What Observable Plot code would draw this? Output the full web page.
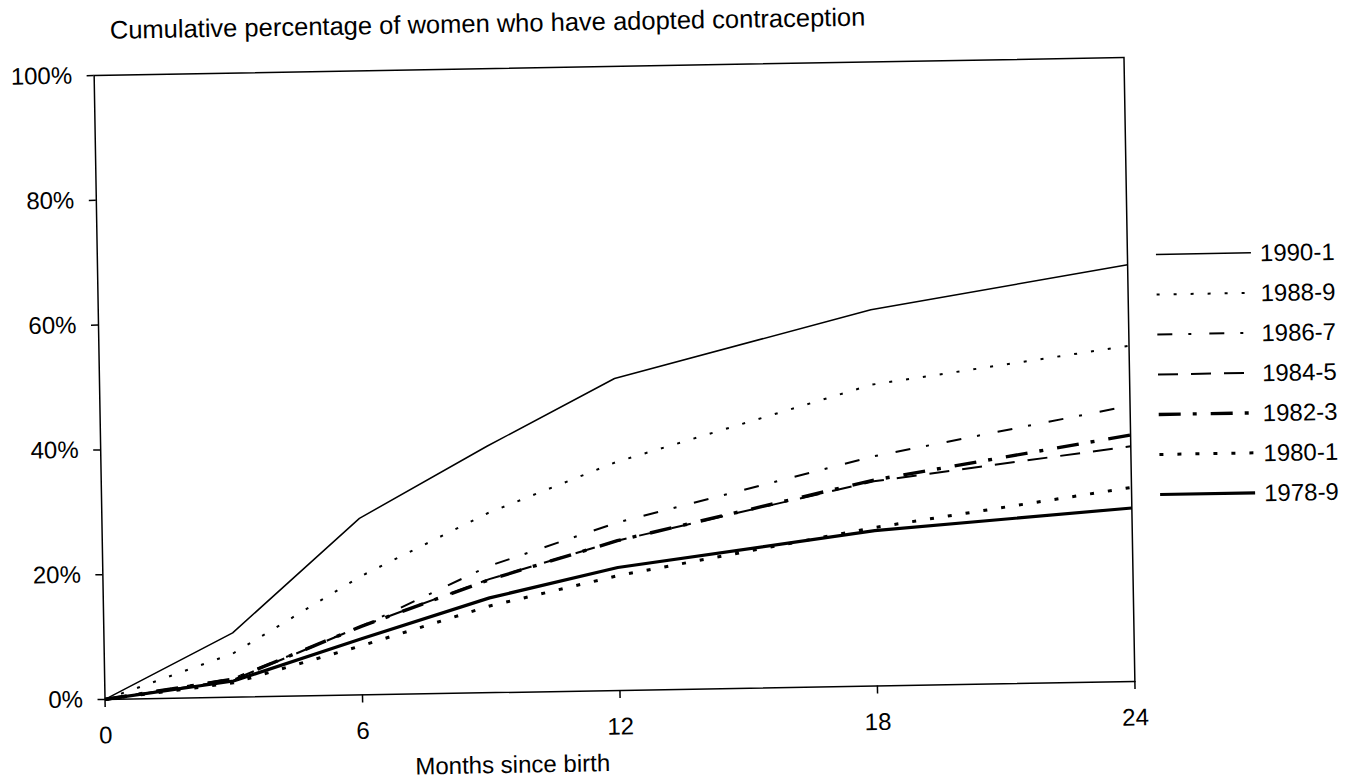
<!DOCTYPE html>
<html>
<head>
<meta charset="utf-8">
<script src="https://cdn.jsdelivr.net/npm/d3@7"></script>
<script src="https://cdn.jsdelivr.net/npm/@observablehq/plot@0.6"></script>
<style>
  html, body { margin: 0; padding: 0; background: #fff; overflow: hidden; }
  #wrap {
    position: relative; width: 1352px; height: 777px;
    transform: rotate(-1deg); transform-origin: 614px 378px;
    font-family: "Liberation Sans", Arial, sans-serif; color: #000;
  }
  #wrap > svg { position: absolute; left: 0; top: 0; }
</style>
</head>
<body>
<div id="wrap"></div>
<script>
// ---- data ----
const titleText = "Cumulative percentage of women who have adopted contraception";
const xLabel = "Months since birth";
const months = [0, 3, 6, 9, 12, 18, 24];
const xTicks = [0, 6, 12, 18, 24];
const yTicks = [0, 0.2, 0.4, 0.6, 0.8, 1];
const series = ["1990-1", "1988-9", "1986-7", "1984-5", "1982-3", "1980-1", "1978-9"];
const v1990 = [0, 10.3, 28.3, 39.5, 50.0, 60.3, 66.8];
const v1988 = [0, 7.0, 19.0, 28.8, 36.6, 48.3, 53.8];
const v1986 = [0, 3.0, 11.0, 20.3, 26.9, 36.8, 44.2];
const v1984 = [0, 2.8, 11.0, 18.2, 24.0, 32.8, 37.7];
const v1982 = [0, 2.9, 11.0, 18.1, 24.0, 33.0, 39.5];
const v1980 = [0, 2.3, 7.9, 13.9, 18.4, 25.4, 31.1];
const v1978 = [0, 2.6, 9.0, 15.2, 19.7, 24.9, 27.8];
const values = [v1990, v1988, v1986, v1984, v1982, v1980, v1978];

// ---- styles ----
const ink = "#000";
const widths = [1.5, 2, 2, 2, 3.4, 3, 3.2];
const dashes = [null, "3,14", "15,16,3,18", "20,13", "22,12,4,14", "4,14", null];

const data = series.flatMap((s, i) =>
  months.map((m, j) => ({ series: s, month: m, pct: values[i][j] / 100 }))
);

const W = 1352, H = 777;
const chart = Plot.plot({
  width: W, height: H,
  marginLeft: 99, marginRight: 223, marginTop: 66, marginBottom: 87,
  style: { fontFamily: "Liberation Sans, Arial, sans-serif", background: "transparent", color: ink },
  x: { domain: [0, 24] },
  y: { domain: [0, 1] },
  marks: [
    Plot.frame({ stroke: ink, strokeWidth: 1.5 }),
    Plot.axisX({ ticks: xTicks, tickSize: 8, tickPadding: 19, fontSize: 24, label: null, stroke: ink, strokeWidth: 1.5 }),
    Plot.axisY({ ticks: yTicks, tickFormat: d3.format(".0%"), tickSize: 7, tickPadding: 15, fontSize: 24, label: null, stroke: ink, strokeWidth: 1.5 }),
    ...series.map((s, i) =>
      Plot.line(data.filter(d => d.series === s), {
        x: "month", y: "pct", stroke: ink,
        strokeWidth: widths[i],
        strokeDasharray: dashes[i],
        strokeLinecap: "butt", strokeLinejoin: "round"
      })
    )
  ]
});
const wrap = document.getElementById("wrap");
wrap.appendChild(chart);

// ---- overlay: title, axis title, legend ----
const ov = d3.create("svg").attr("width", W).attr("height", H)
  .style("pointer-events", "none")
  .attr("font-family", "Liberation Sans, Arial, sans-serif").attr("fill", ink);
ov.append("text").attr("x", 116).attr("y", 30).attr("font-size", 25.5).text(titleText);
ov.append("text").attr("x", 506).attr("y", 771).attr("font-size", 24).attr("text-anchor", "middle").text(xLabel);

const lg = ov.append("g");
series.forEach((s, i) => {
  const y = 264 + 40 * i;
  lg.append("line").attr("x1", 1158).attr("x2", 1253).attr("y1", y).attr("y2", y)
    .attr("stroke", ink).attr("stroke-width", widths[i])
    .attr("stroke-dasharray", dashes[i]);
  lg.append("text").attr("x", 1262).attr("y", y + 8.5).attr("font-size", 24).text(s);
});
wrap.appendChild(ov.node());
</script>
</body>
</html>
